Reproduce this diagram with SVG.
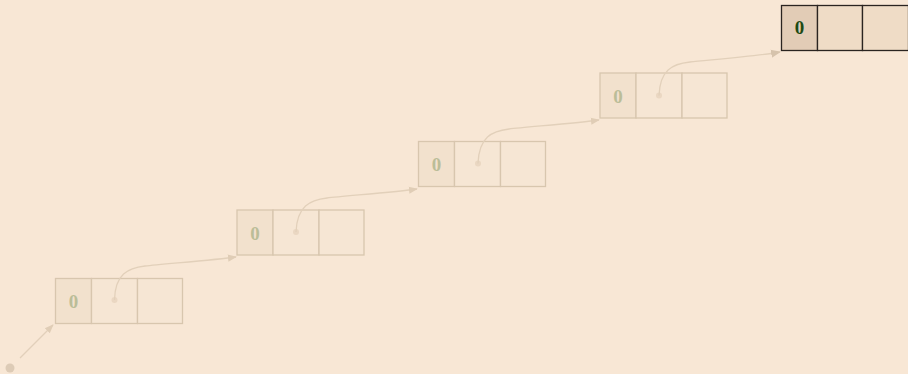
<svg xmlns="http://www.w3.org/2000/svg" width="908" height="374" viewBox="0 0 908 374">
<defs>
<style>
.bg{fill:#f8e7d5}
.fc{fill:#f2e1cd;stroke:#d8c6ae;stroke-width:1.3}
.oc{fill:#f6e6d4;stroke:#d8c6ae;stroke-width:1.3}
.ft{font-family:"Liberation Serif",serif;font-weight:bold;font-size:19px;fill:#bbbd98;text-anchor:middle}
.hc1{fill:#e2ccb6;stroke:#2a2420;stroke-width:1.3}
.hc{fill:#efdcc6;stroke:#2a2420;stroke-width:1.3}
.ht{font-family:"Liberation Serif",serif;font-weight:bold;font-size:19px;fill:#1d4a14;text-anchor:middle}
.dot{fill:#ead7c2}
.con{fill:none;stroke:#e2d0ba;stroke-width:1.3}
</style>
<marker id="ah" viewBox="0 0 10 10" refX="9" refY="5" markerWidth="9" markerHeight="9" markerUnits="userSpaceOnUse" orient="auto">
<path d="M0,1 L10,5 L0,9 z" fill="#e0cdb6"/>
</marker>
<marker id="ah2" viewBox="0 0 10 10" refX="9" refY="5" markerWidth="10" markerHeight="10" markerUnits="userSpaceOnUse" orient="auto">
<path d="M0,1 L10,5 L0,9 z" fill="#d6c3ac"/>
</marker>
</defs>
<rect class="bg" x="0" y="0" width="908" height="374"/>
<g id="node1">
<rect class="fc" x="55.5" y="278.5" width="36" height="45"/>
<rect class="oc" x="91.5" y="278.5" width="46" height="45"/>
<rect class="oc" x="137.5" y="278.5" width="45" height="45"/>
<circle class="dot" cx="114.5" cy="300" r="3"/>
<text class="ft" x="73.5" y="307.5">0</text>
</g>
<g id="node2">
<rect class="fc" x="237" y="210" width="36" height="45"/>
<rect class="oc" x="273" y="210" width="46" height="45"/>
<rect class="oc" x="319" y="210" width="45" height="45"/>
<circle class="dot" cx="296" cy="232" r="3"/>
<text class="ft" x="255" y="239.5">0</text>
</g>
<g id="node3">
<rect class="fc" x="418.5" y="141.5" width="36" height="45"/>
<rect class="oc" x="454.5" y="141.5" width="46" height="45"/>
<rect class="oc" x="500.5" y="141.5" width="45" height="45"/>
<circle class="dot" cx="478" cy="163.5" r="3"/>
<text class="ft" x="436.5" y="171">0</text>
</g>
<g id="node4">
<rect class="fc" x="600" y="73" width="36" height="45"/>
<rect class="oc" x="636" y="73" width="46" height="45"/>
<rect class="oc" x="682" y="73" width="45" height="45"/>
<circle class="dot" cx="659" cy="95.5" r="3"/>
<text class="ft" x="618" y="102.5">0</text>
</g>
<g id="node5">
<rect class="hc1" x="781.5" y="5.5" width="36" height="45"/>
<rect class="hc" x="817.5" y="5.5" width="45" height="45"/>
<rect class="hc" x="862.5" y="5.5" width="46" height="45"/>
<text class="ht" x="799.5" y="34">0</text>
</g>
<g id="connectors">
<circle cx="10" cy="368" r="4.5" fill="#ddcbb6"/>
<path class="con" d="M20,358 L53,325" marker-end="url(#ah)"/>
<path class="con" d="M114.5,300 C115,274 128,268 145,266 S215,260 236,257" marker-end="url(#ah)"/>
<path class="con" d="M296,232 C297,206 310,200 327,198 S397,192 417,189" marker-end="url(#ah)"/>
<path class="con" d="M478,163.5 C479,137 492,131 509,129 S579,123 599,120" marker-end="url(#ah)"/>
<path class="con" d="M659,95.5 C660,70 672,64 690,62 S760,56 780,52" stroke="#dccab3" marker-end="url(#ah2)"/>
</g>
</svg>
